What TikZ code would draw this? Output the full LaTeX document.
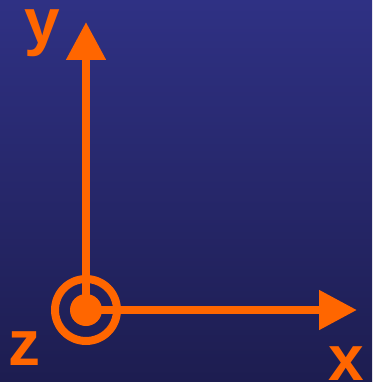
\documentclass[tikz,border=0pt]{standalone}
\usepackage{fontspec}
\setmainfont{Liberation Sans}
\usetikzlibrary{arrows.meta}
\definecolor{bgtop}{RGB}{47,49,132}
\definecolor{bgbot}{RGB}{29,29,80}
\definecolor{axisor}{RGB}{255,102,0}
\tikzset{
  axis/.style={axisor,line width=8pt,-{Triangle[length=38pt,width=38pt]}},
  lbl/.style={text=axisor,inner sep=0pt,anchor=base,font=\fontsize{64}{64}\selectfont\bfseries}
}
\begin{document}
\begin{tikzpicture}[x=1pt,y=-1pt]
\shade[top color=bgtop,bottom color=bgbot] (0,0) rectangle (372,382);
\useasboundingbox (0,0) rectangle (372,382);
\coordinate (O) at (86,310);
\coordinate (xend) at (357,310);
\coordinate (yend) at (86,22);
\draw[axis] (O) -- (xend);
\draw[axis] (O) -- (yend);
\draw[axisor,line width=8pt] (O) circle[radius=31];
\fill[axisor] (O) circle[radius=16];
\node[lbl] (xl) at (346.5,380) {x};
\node[lbl] (yl) at (42.5,44) {y};
\node[lbl] (zl) at (24.5,365) {z};
\end{tikzpicture}
\end{document}
